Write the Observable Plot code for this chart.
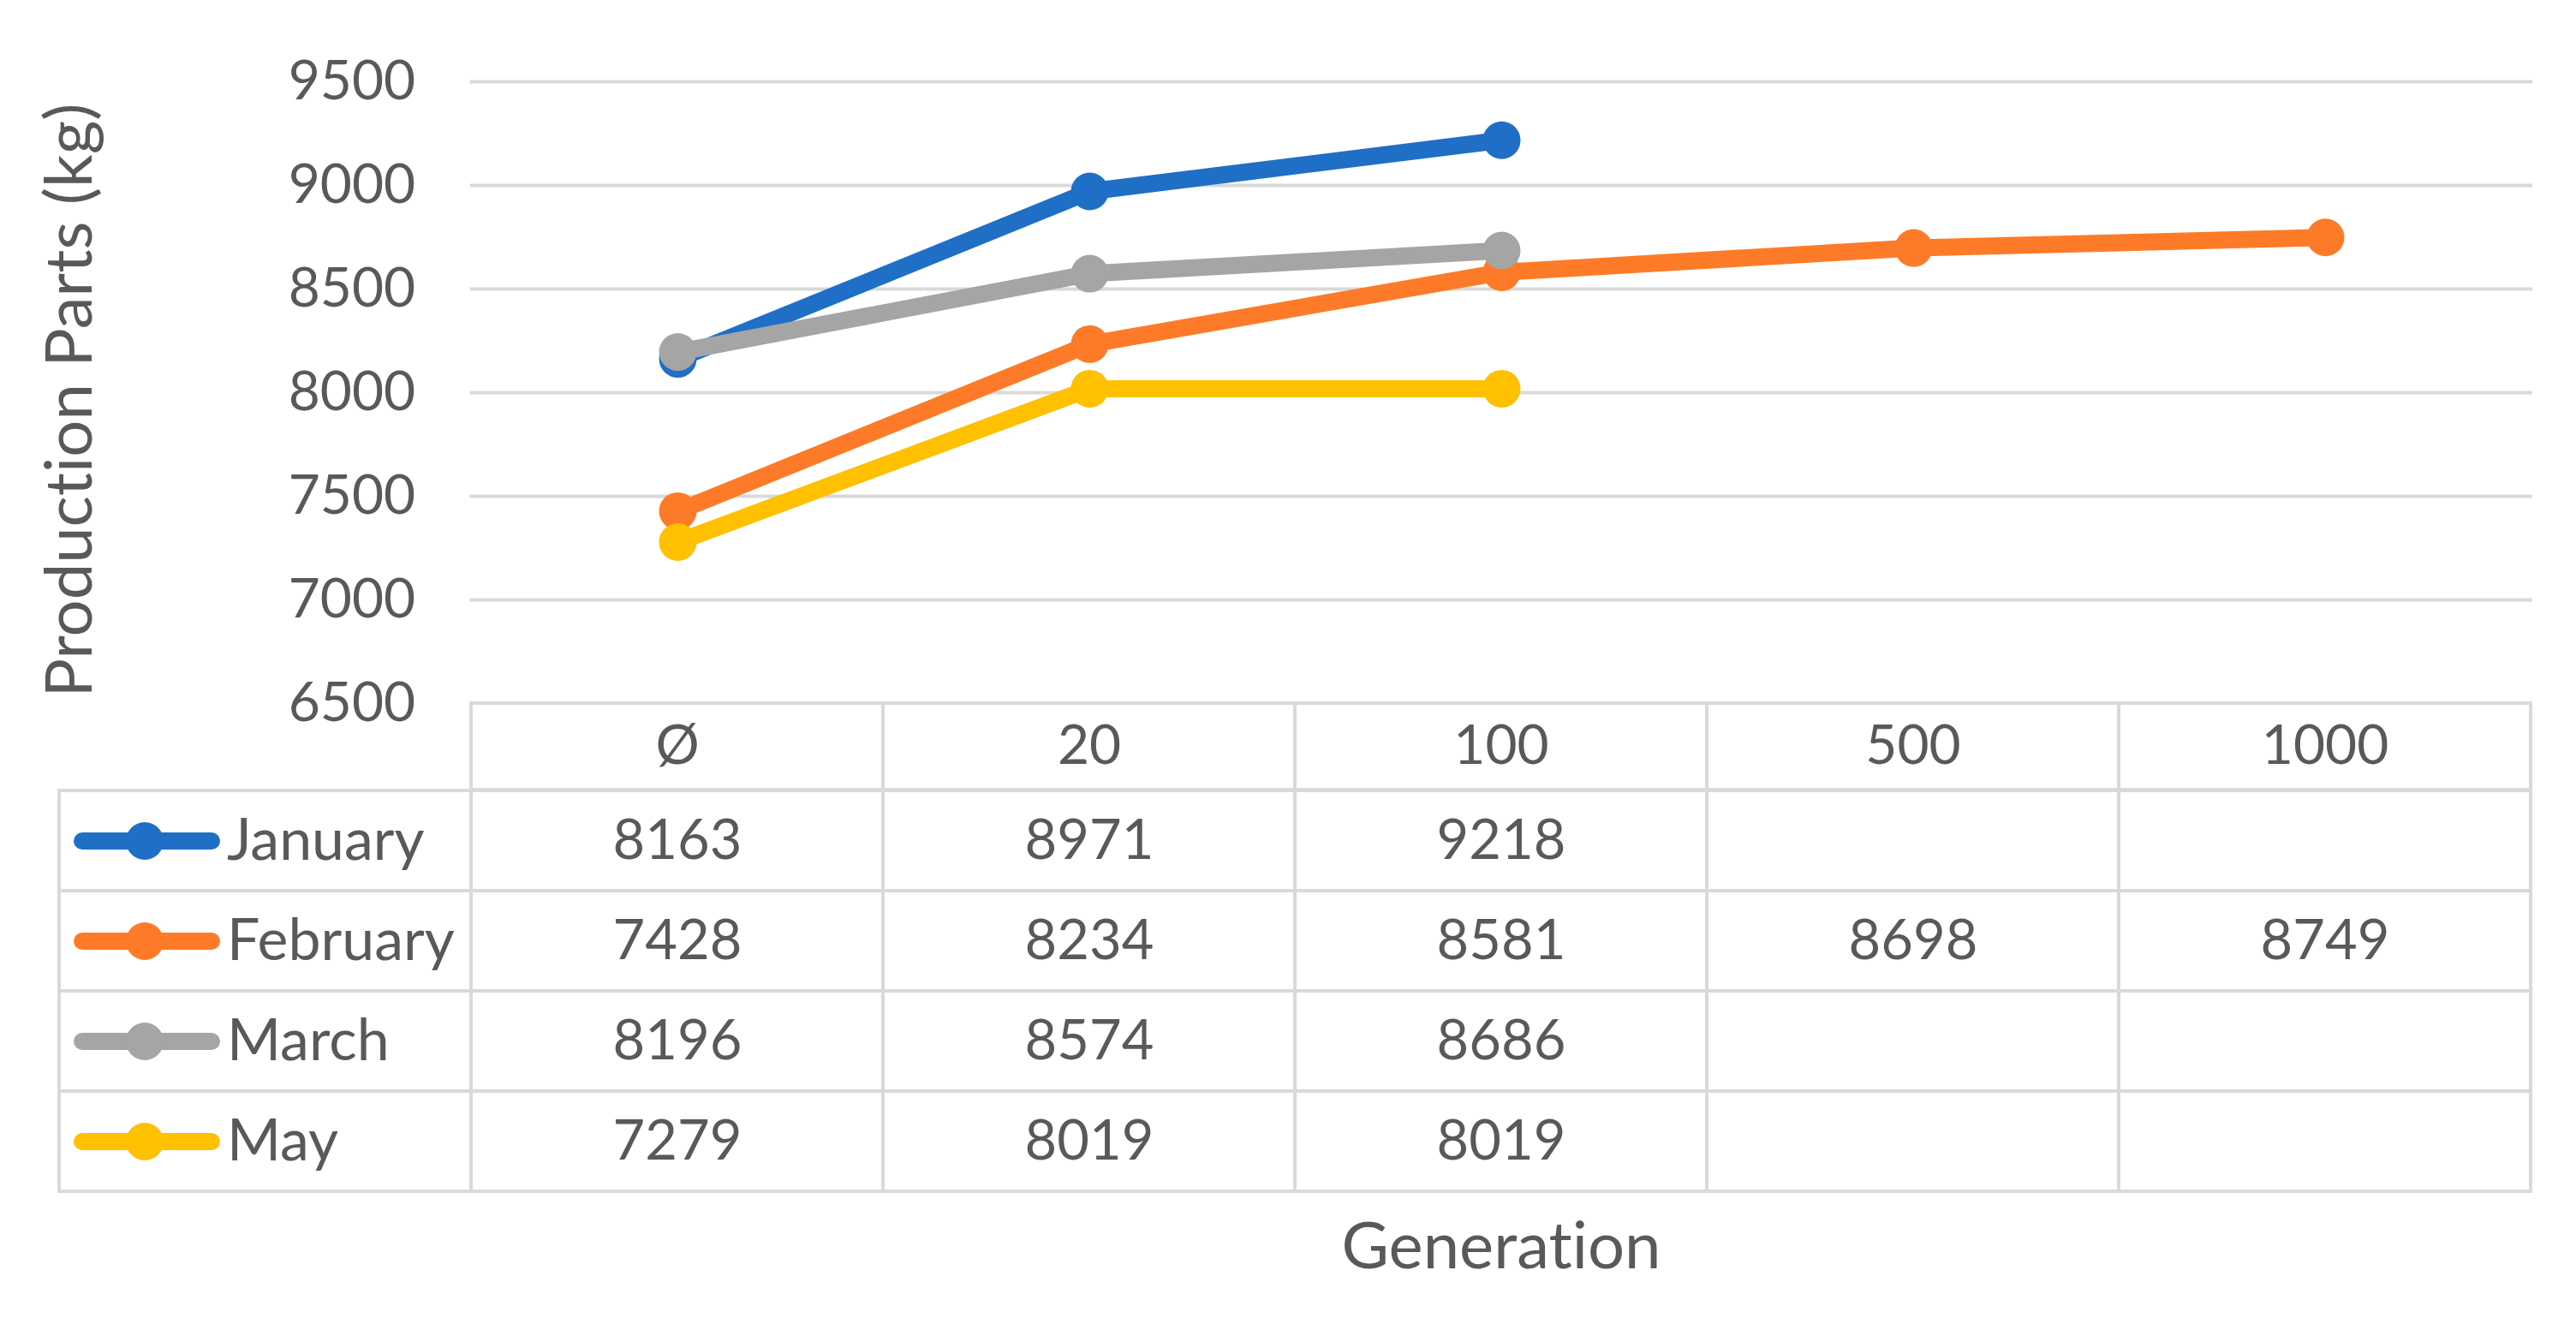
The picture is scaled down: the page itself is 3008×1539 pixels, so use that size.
<!DOCTYPE html>
<html>
<head>
<meta charset="utf-8">
<script src="https://cdn.jsdelivr.net/npm/d3@7"></script>
<script src="https://cdn.jsdelivr.net/npm/@observablehq/plot@0.6"></script>
<style>
  html, body { margin: 0; padding: 0; background: #ffffff; }
  #wrap { position: relative; width: 3008px; height: 1539px; background: #ffffff; overflow: hidden; }
  #wrap svg { position: absolute; left: 0; overflow: visible; }
  #wrap text { font-variant-ligatures: none; }
</style>
</head>
<body>
<div id="wrap"></div>
<script>
// ---- data ----
const generations = ["Ø", "20", "100", "500", "1000"];
const seriesNames = ["January", "February", "March", "May"];
const january  = [8163, 8971, 9218, null, null];
const february = [7428, 8234, 8581, 8698, 8749];
const march    = [8196, 8574, 8686, null, null];
const may      = [7279, 8019, 8019, null, null];
const seriesColors = ["#1f6fc6", "#fd7b28", "#a5a5a5", "#ffc000"];
const yTicks = [6500, 7000, 7500, 8000, 8500, 9000, 9500];
const yLabel = "Production Parts (kg)";
const xLabel = "Generation";

// ---- table built from the arrays ----
const seriesValues = [january, february, march, may];
const rows = seriesNames.flatMap((s, i) =>
  generations.map((g, j) => ({series: s, gen: g, value: seriesValues[i][j]}))
).filter(d => d.value != null);

// ---- layout ----
const W = 3008;
const tableLeft = 67, tableRight = 2957;
const bw = (tableRight - tableLeft) / 6;
const textColor = "#595959";
const lineGray = "#d9d9d9";
const font = "Lato, 'Open Sans', sans-serif";
const colorSpec = {domain: seriesNames, range: seriesColors};
const styleSpec = {background: "transparent", overflow: "visible", fontFamily: font, color: textColor};

const wrap = document.getElementById("wrap");

// ---- chart ----
const chart = Plot.plot({
  width: W, height: 821,
  marginTop: 95, marginBottom: 0,
  marginLeft: tableLeft + bw, marginRight: W - tableRight,
  style: styleSpec,
  x: {type: "point", domain: generations, padding: 0.5, axis: null},
  y: {domain: [6500, 9500], axis: null},
  color: colorSpec,
  marks: [
    Plot.gridY(yTicks, {stroke: lineGray, strokeOpacity: 1, strokeWidth: 4}),
    Plot.axisY(yTicks, {tickSize: 0, tickPadding: 64, fontSize: 64, fill: textColor, label: null, tickFormat: d => String(d)}),
    ...seriesNames.flatMap(s => [
      Plot.line(rows.filter(d => d.series === s), {x: "gen", y: "value", stroke: "series", strokeWidth: 20, strokeLinejoin: "round", strokeLinecap: "round"}),
      Plot.dot(rows.filter(d => d.series === s), {x: "gen", y: "value", fill: "series", r: 22})
    ]),
    Plot.text([yLabel], {frameAnchor: "left", textAnchor: "middle", rotate: -90, dx: -466, dy: 9, fontSize: 76, fill: textColor, lineAnchor: "middle"})
  ]
});
chart.style.top = "0px";
wrap.appendChild(chart);

const tableCols = ["", ...generations];

// ---- table header ----
const header = Plot.plot({
  width: W, height: 101,
  marginTop: 0, marginBottom: 0,
  marginLeft: tableLeft, marginRight: W - tableRight,
  style: styleSpec,
  x: {type: "band", domain: tableCols, padding: 0, axis: null},
  marks: [
    Plot.cell(generations, {x: d => d, fill: "white", stroke: lineGray, strokeWidth: 4, inset: 0}),
    Plot.text(generations, {x: d => d, text: d => d, fontSize: 64, fill: textColor})
  ]
});
header.style.top = "821px";
wrap.appendChild(header);

// ---- table body ----
const bodyCells = seriesNames.flatMap(s => tableCols.map(c => ({series: s, col: c})));
const body = Plot.plot({
  width: W, height: 617,
  marginTop: 0, marginBottom: 148,
  marginLeft: tableLeft, marginRight: W - tableRight,
  style: styleSpec,
  x: {type: "band", domain: tableCols, padding: 0, axis: null},
  y: {type: "band", domain: seriesNames, padding: 0, axis: null},
  color: colorSpec,
  marks: [
    Plot.cell(bodyCells, {x: "col", y: "series", fill: "white", stroke: lineGray, strokeWidth: 4, inset: 0}),
    Plot.text(rows, {x: "gen", y: "series", text: d => String(d.value), fontSize: 65, fill: textColor}),
    Plot.tickY(seriesNames, {x: () => "", y: d => d, stroke: d => d, strokeWidth: 20, strokeLinecap: "round", insetLeft: 27, insetRight: 303}),
    Plot.dot(seriesNames, {x: () => "", y: d => d, fill: d => d, r: 22, dx: -141}),
    Plot.text(seriesNames, {x: () => "", y: d => d, text: d => d, textAnchor: "start", dx: -45, fontSize: 68, fill: textColor}),
    Plot.text([xLabel], {x: () => "100", frameAnchor: "bottom", lineAnchor: "middle", dy: 65, fontSize: 76, fill: textColor})
  ]
});
body.style.top = "922px";
wrap.appendChild(body);
</script>
</body>
</html>
